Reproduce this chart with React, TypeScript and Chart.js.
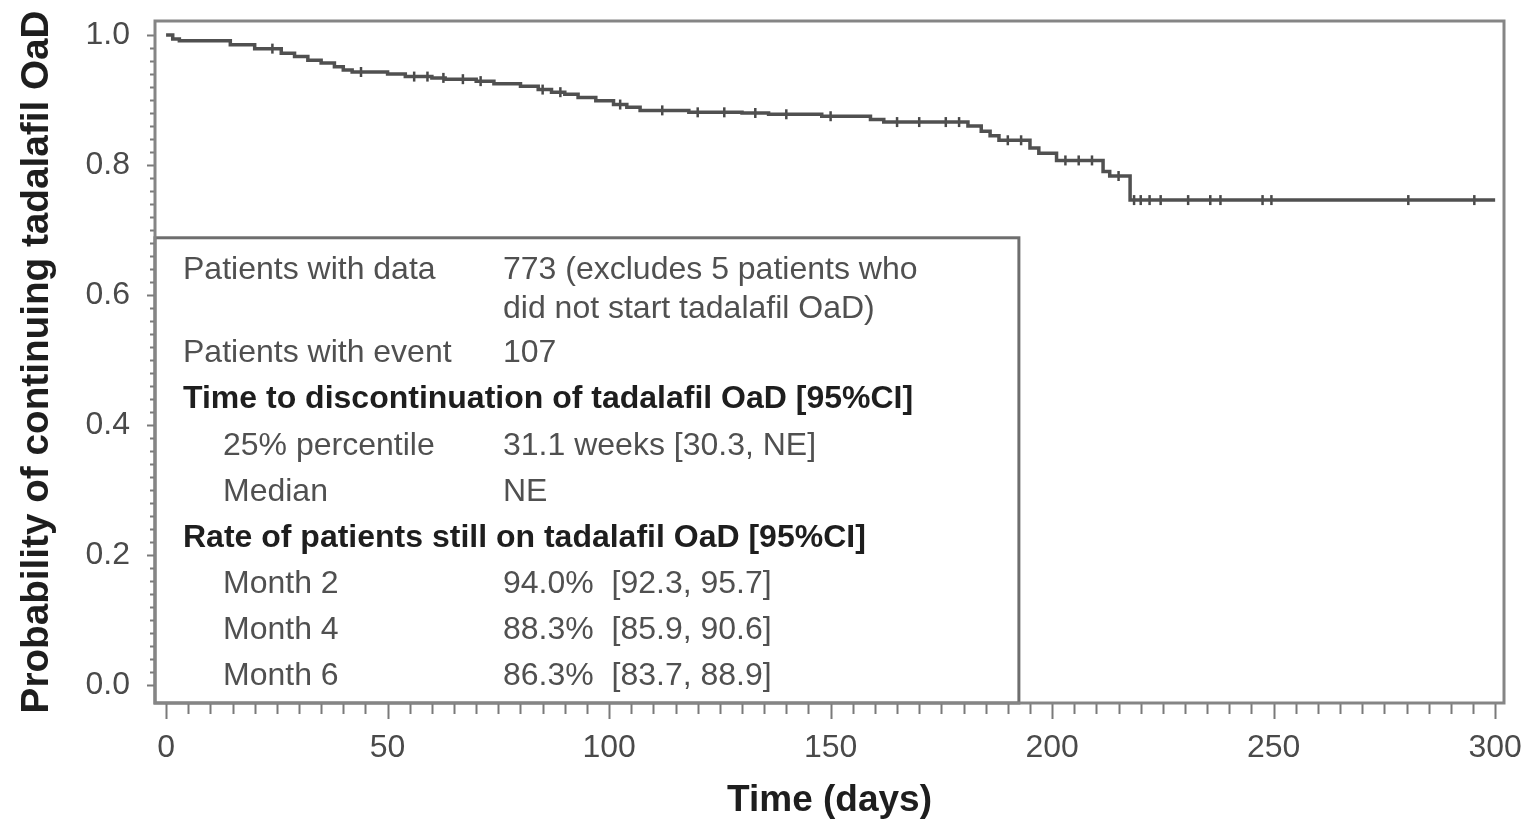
import React, { useEffect, useRef } from "react";
import { Chart, registerables } from "chart.js";

Chart.register(...registerables);

// Kaplan-Meier step points (day of event, survival after event)
const kmDays = [0, 1.5, 3, 14.5, 20, 26, 29, 32, 35, 38, 40, 42, 50, 54, 60, 63, 70, 74, 80, 84, 87, 90, 93, 97, 101, 104, 107, 118, 130, 136, 148, 159, 162, 181, 184, 186, 188, 195, 197, 201, 211.5, 213, 217.6, 300];
const kmSurv = [1.0, 0.994, 0.991, 0.985, 0.979, 0.972, 0.967, 0.961, 0.957, 0.951, 0.946, 0.943, 0.94, 0.936, 0.934, 0.932, 0.929, 0.925, 0.921, 0.916, 0.912, 0.909, 0.904, 0.899, 0.893, 0.889, 0.884, 0.881, 0.88, 0.878, 0.875, 0.87, 0.866, 0.86, 0.852, 0.845, 0.838, 0.826, 0.818, 0.807, 0.79, 0.783, 0.746, 0.746];

// Censored observations
const censorDays = [24, 44, 56, 59, 62.6, 67, 71, 85, 89, 102.5, 112, 120, 126, 133, 140, 150, 165, 170, 176, 179, 190, 193, 203, 206, 209, 215, 218.5, 220, 222, 224.5, 230.7, 235.7, 238, 247.5, 249.5, 280.4, 295.3];
const censorSurv = [0.979, 0.943, 0.936, 0.936, 0.934, 0.932, 0.929, 0.916, 0.912, 0.893, 0.884, 0.881, 0.881, 0.88, 0.878, 0.875, 0.866, 0.866, 0.866, 0.866, 0.838, 0.838, 0.807, 0.807, 0.807, 0.783, 0.746, 0.746, 0.746, 0.746, 0.746, 0.746, 0.746, 0.746, 0.746, 0.746, 0.746];

const xTickValues = [0, 50, 100, 150, 200, 250, 300];
const yTickValues = [0.0, 0.2, 0.4, 0.6, 0.8, 1.0];

// Summary table
const tableLabels = [
  "Patients with data",
  "",
  "Patients with event",
  "Time to discontinuation of tadalafil OaD [95%CI]",
  "25% percentile",
  "Median",
  "Rate of patients still on tadalafil OaD [95%CI]",
  "Month 2",
  "Month 4",
  "Month 6",
];
const tableValues = [
  "773 (excludes 5 patients who",
  "did not start tadalafil OaD)",
  "107",
  "",
  "31.1 weeks [30.3, NE]",
  "NE",
  "",
  "94.0%  [92.3, 95.7]",
  "88.3%  [85.9, 90.6]",
  "86.3%  [83.7, 88.9]",
];
const tableBold = [false, false, false, true, false, false, true, false, false, false];
const tableIndent = [false, false, false, false, true, true, false, true, true, true];

// layout constants
const ROW_OFFSETS = [41, 80, 124, 170, 217, 263, 309, 355, 401, 447];
const BOX_RIGHT_DAY = 192.5;
const BOX_TOP_VALUE = 0.688;
const FONT = "'Liberation Sans', Arial, Helvetica, sans-serif";

const framePlugin = {
  id: "kmFrame",
  afterDraw(chart: any) {
    const { ctx, chartArea: a, scales } = chart;
    const x = scales.x;
    const y = scales.y;
    ctx.save();
    // minor / major ticks
    ctx.strokeStyle = "#7a7a7a";
    ctx.lineWidth = 2;
    ctx.beginPath();
    for (let i = 0; i <= 60; i++) {
      const px = Math.round(x.getPixelForValue(i * 5)) + 0.5;
      const len = i % 10 === 0 ? 16 : 11;
      ctx.moveTo(px, a.bottom);
      ctx.lineTo(px, a.bottom + len);
    }
    for (let i = 0; i <= 50; i++) {
      const py = Math.round(y.getPixelForValue(i * 0.02)) + 0.5;
      const len = i % 10 === 0 ? 8 : 5;
      ctx.moveTo(a.left - len, py);
      ctx.lineTo(a.left, py);
    }
    ctx.stroke();

    // summary box
    const bx = x.getPixelForValue(BOX_RIGHT_DAY);
    const by = y.getPixelForValue(BOX_TOP_VALUE);
    ctx.fillStyle = "#ffffff";
    ctx.fillRect(a.left, by, bx - a.left, a.bottom - by);
    ctx.strokeStyle = "#6e6e6e";
    ctx.lineWidth = 3;
    ctx.strokeRect(a.left, by, bx - a.left, a.bottom - by);

    // frame
    ctx.strokeStyle = "#858585";
    ctx.lineWidth = 3;
    ctx.strokeRect(a.left, a.top, a.right - a.left, a.bottom - a.top);

    // table text
    ctx.textBaseline = "alphabetic";
    ctx.textAlign = "left";
    for (let i = 0; i < tableLabels.length; i++) {
      const ty = by + ROW_OFFSETS[i];
      ctx.font = (tableBold[i] ? "bold " : "") + "32px " + FONT;
      ctx.fillStyle = tableBold[i] ? "#1e1e1e" : "#505050";
      if (tableLabels[i]) ctx.fillText(tableLabels[i], a.left + (tableIndent[i] ? 68 : 28), ty);
      if (tableValues[i]) ctx.fillText(tableValues[i], a.left + 348, ty);
    }
    ctx.restore();
  },
};

const zeroPad = (scale: any) => {
  scale.paddingLeft = 0;
  scale.paddingRight = 0;
  scale.paddingTop = 0;
  scale.paddingBottom = 0;
};

export default function App() {
  const canvasRef = useRef<HTMLCanvasElement | null>(null);

  useEffect(() => {
    document.body.style.margin = "0";
    document.body.style.overflow = "hidden";
    const canvas = canvasRef.current;
    if (!canvas) return;
    const chart = new Chart(canvas, {
      type: "scatter",
      data: {
        datasets: [
          {
            label: "KM",
            data: kmDays.map((d, i) => ({ x: d, y: kmSurv[i] })),
            showLine: true,
            stepped: true,
            borderColor: "#505050",
            borderWidth: 3.5,
            pointRadius: 0,
            fill: false,
          } as any,
          {
            label: "Censored",
            data: censorDays.map((d, i) => ({ x: d, y: censorSurv[i] })),
            showLine: false,
            pointStyle: "line",
            rotation: 90,
            pointRadius: 5,
            borderWidth: 2.5,
            borderColor: "#484848",
            backgroundColor: "#484848",
          } as any,
        ],
      },
      options: {
        responsive: false,
        animation: false,
        devicePixelRatio: 1,
        layout: { padding: { top: 21, right: 22, left: 0, bottom: 0 } },
        plugins: { legend: { display: false }, tooltip: { enabled: false } },
        scales: {
          x: {
            type: "linear",
            min: -2.5,
            max: 302,
            afterBuildTicks: (scale: any) => {
              scale.ticks = xTickValues.map((v) => ({ value: v }));
            },
            afterFit: (scale: any) => {
              scale.height = 120;
              zeroPad(scale);
            },
            grid: { display: false, drawTicks: false },
            border: { display: false },
            ticks: {
              autoSkip: false,
              maxRotation: 0,
              padding: 26,
              color: "#4a4a4a",
              font: { family: FONT, size: 32 },
              callback: (v: any) => String(v),
            },
            title: {
              display: true,
              text: "Time (days)",
              color: "#1e1e1e",
              font: { family: FONT, size: 37, weight: "bold" },
              padding: { top: 0, bottom: 0 },
            },
          },
          y: {
            type: "linear",
            min: -0.0277,
            max: 1.0215,
            afterBuildTicks: (scale: any) => {
              scale.ticks = yTickValues.map((v) => ({ value: v }));
            },
            afterFit: (scale: any) => {
              scale.width = 155;
              zeroPad(scale);
            },
            grid: { display: false, drawTicks: false },
            border: { display: false },
            ticks: {
              autoSkip: false,
              padding: 25,
              color: "#4a4a4a",
              font: { family: FONT, size: 32 },
              callback: (v: any) => Number(v).toFixed(1),
            },
            title: {
              display: true,
              text: "Probability of continuing tadalafil OaD",
              color: "#1e1e1e",
              font: { family: FONT, size: 38.7, weight: "bold" },
              padding: { top: 14, bottom: 0 },
            },
          },
        },
      },
      plugins: [framePlugin],
    } as any);
    return () => chart.destroy();
  }, []);

  return (
    <div style={{ width: 1526, height: 823, position: "relative" }}>
      <canvas ref={canvasRef} width={1526} height={823} />
    </div>
  );
}
